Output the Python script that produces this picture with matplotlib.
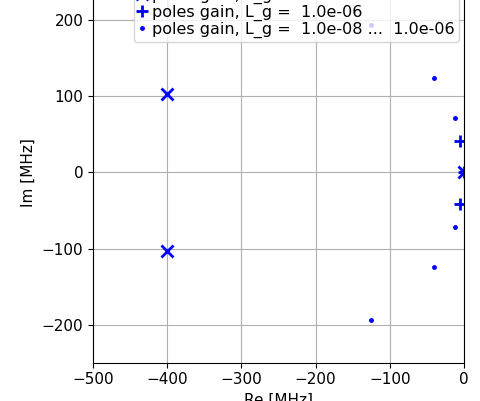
import matplotlib
matplotlib.use("Agg")
import matplotlib.pyplot as plt
import numpy as np

# poles for L_g = 1e-8 (x markers)
re_start = [-400, -400, 0]
im_start = [103, -103, 0]
# poles for L_g = 1e-6 (+ markers)
re_end = [-6, -6, 0]
im_end = [41, -41, 0]
# intermediate poles (dots)
re_mid = [-125, -125, -40, -40, -12, -12, -3]
im_mid = [194, -194, 124, -124, 72, -72, 0]

xticks = [-500, -400, -300, -200, -100, 0]
yticks = [-200, -100, 0, 100, 200]

plt.rcParams['font.size'] = 11
fig = plt.figure(figsize=(4.8, 4.01), dpi=100)
ax = fig.add_axes([93/480, (401-362.7)/401, 371/480, 380.5/401])

ax.plot(re_start, im_start, 'bx', ms=8, mew=2, label='poles gain, L_g =  1.0e-08')
ax.plot(re_end, im_end, 'b+', ms=9, mew=2, label='poles gain, L_g =  1.0e-06')
ax.plot(re_mid, im_mid, 'b.', ms=5, label='poles gain, L_g =  1.0e-08 ...  1.0e-06')

ax.set_xlim(-500, 0)
ax.set_ylim(-250, 250)
ax.set_xticks(xticks)
ax.set_yticks(yticks)
ax.grid(True)
ax.set_xlabel('Re [MHz]')
ax.set_ylabel('Im [MHz]')
ax.legend(loc='lower right', bbox_to_anchor=(459/480, (401-42)/401),
          bbox_transform=fig.transFigure, borderaxespad=0, numpoints=1,
          handlelength=0.5, handletextpad=0.4, labelspacing=0.05,
          fontsize=11.5, borderpad=0.25)

fig.savefig('out.png', dpi=100)
